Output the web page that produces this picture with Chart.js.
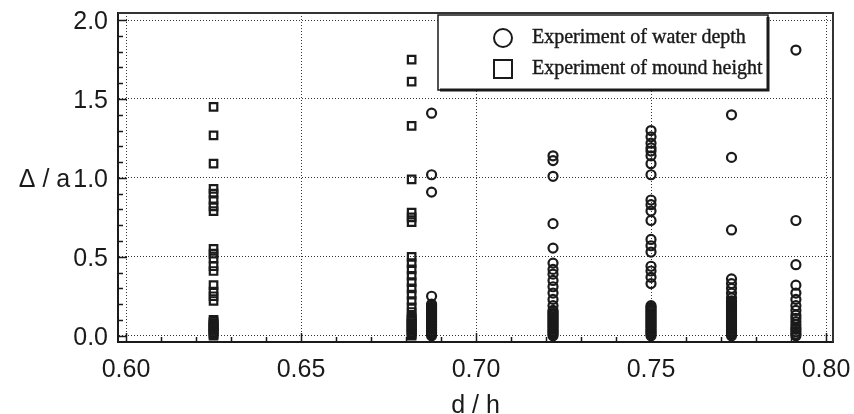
<!DOCTYPE html>
<html>
<head>
<meta charset="utf-8">
<script src="https://cdn.jsdelivr.net/npm/chart.js@4/dist/chart.umd.min.js"></script>
<style>
  html, body { margin: 0; padding: 0; background: #fff; }
  #wrap { width: 854px; height: 414px; }
</style>
</head>
<body>
<div id="wrap"><canvas id="dhChart" width="854" height="414"></canvas></div>
<script>
// d/h position of each measured column
const moundX = [0.625, 0.6816];
const depthX = [0.6873, 0.722, 0.75, 0.773, 0.7914];

// Δ/a values
const mound0625 = [1.45, 1.27, 1.09, 0.93, 0.90, 0.86, 0.82, 0.79, 0.55, 0.52, 0.49, 0.44, 0.41,
  0.32, 0.28, 0.25, 0.22, 0.10, 0.09, 0.08, 0.07, 0.06, 0.05, 0.04, 0.03, 0.02, 0.01, 0.0];
const mound0682 = [1.75, 1.61, 1.33, 0.99, 0.78, 0.75, 0.72, 0.50, 0.46, 0.42, 0.38, 0.34, 0.30,
  0.26, 0.22, 0.18, 0.15, 0.12, 0.11, 0.10, 0.09, 0.08, 0.07, 0.06, 0.05, 0.04, 0.03, 0.02, 0.01,
  0.0];
const depth0687 = [1.41, 1.02, 0.91, 0.25, 0.20, 0.19, 0.18, 0.17, 0.16, 0.15, 0.14, 0.13, 0.12,
  0.11, 0.10, 0.09, 0.08, 0.07, 0.06, 0.05, 0.04, 0.03, 0.02, 0.01, 0.0];
const depth0722 = [1.14, 1.11, 1.01, 0.71, 0.555, 0.46, 0.42, 0.39, 0.35, 0.31, 0.27, 0.23, 0.19,
  0.16, 0.15, 0.14, 0.13, 0.12, 0.11, 0.10, 0.09, 0.08, 0.07, 0.06, 0.05, 0.04, 0.03, 0.02, 0.01,
  0.0];
const depth0750 = [1.30, 1.26, 1.22, 1.19, 1.17, 1.14, 1.09, 1.02, 0.86, 0.83, 0.79, 0.73, 0.61,
  0.57, 0.53, 0.44, 0.41, 0.37, 0.33, 0.19, 0.18, 0.17, 0.16, 0.15, 0.14, 0.13, 0.12, 0.11, 0.10,
  0.09, 0.08, 0.07, 0.06, 0.05, 0.04, 0.03, 0.02, 0.01, 0.0];
const depth0773 = [1.40, 1.13, 0.67, 0.36, 0.33, 0.30, 0.27, 0.24, 0.22, 0.21, 0.20, 0.19, 0.18,
  0.17, 0.16, 0.15, 0.14, 0.13, 0.12, 0.11, 0.10, 0.09, 0.08, 0.07, 0.06, 0.05, 0.04, 0.03, 0.02,
  0.01, 0.0];
const depth0791 = [1.81, 0.73, 0.45, 0.32, 0.27, 0.23, 0.19, 0.16, 0.13, 0.11, 0.09, 0.07, 0.05,
  0.04, 0.025, 0.01, 0.0];

const xTicks = [0.60, 0.65, 0.70, 0.75, 0.80];
const yTicks = [0.0, 0.5, 1.0, 1.5, 2.0];
const seriesNames = ['Experiment of water depth', 'Experiment of mound height'];
const xTitle = 'd / h';
const yTitle = 'Δ / a';

const toPoints = (xs, cols) => xs.flatMap((x, i) => cols[i].map(y => ({ x: x, y: y })));

const sans = '"Liberation Sans", Arial, sans-serif';
const serif = '"Liberation Serif", "Times New Roman", serif';
const ink = '#1a1a1a';

// inward ticks, the top/right edges of the frame and the horizontal y title
const framePlugin = {
    id: 'frame',
    beforeDatasetsDraw(chart) {
        const { ctx, chartArea: a, scales } = chart;
        const x = scales.x, y = scales.y;
        ctx.save();
        ctx.strokeStyle = ink;
        ctx.lineWidth = 1.5;
        ctx.beginPath();
        for (let i = 0; i <= 20; i++) {
            const px = Math.round(x.getPixelForValue(0.60 + i * 0.01)) + 0.5;
            const len = i % 5 === 0 ? 9 : 5;
            ctx.moveTo(px, a.bottom);
            ctx.lineTo(px, a.bottom - len);
        }
        for (let i = 0; i <= 20; i++) {
            const py = Math.round(y.getPixelForValue(i * 0.1)) + 0.5;
            const len = i % 5 === 0 ? 9 : 5;
            ctx.moveTo(a.left, py);
            ctx.lineTo(a.left + len, py);
        }
        ctx.stroke();

        ctx.strokeStyle = '#333';
        ctx.lineWidth = 2;
        ctx.beginPath();
        ctx.moveTo(a.left, a.top);
        ctx.lineTo(a.right, a.top);
        ctx.lineTo(a.right, a.bottom);
        ctx.stroke();

        ctx.font = '25px ' + sans;
        ctx.fillStyle = ink;
        ctx.textAlign = 'right';
        ctx.textBaseline = 'middle';
        const labelW = ctx.measureText('1.0').width;
        ctx.fillText(yTitle, a.left - 10 - labelW - 3, y.getPixelForValue(1.0) + 2);
        ctx.restore();
    }
};

// boxed legend in the upper right of the plot
const legendPlugin = {
    id: 'boxLegend',
    afterDatasetsDraw(chart) {
        const { ctx, chartArea: a } = chart;
        const bx = a.right - 395, by = a.top + 2, bw = 330, bh = 75;
        ctx.save();
        ctx.fillStyle = '#fff';
        ctx.fillRect(bx, by, bw, bh);
        ctx.strokeStyle = ink;
        ctx.lineWidth = 1.5;
        ctx.strokeRect(bx, by, bw, bh);
        ctx.lineWidth = 3;
        ctx.beginPath();
        ctx.moveTo(bx + bw, by + 2);
        ctx.lineTo(bx + bw, by + bh);
        ctx.lineTo(bx + 2, by + bh);
        ctx.stroke();

        ctx.lineWidth = 2;
        ctx.beginPath();
        ctx.arc(bx + 65, by + 23, 9, 0, Math.PI * 2);
        ctx.stroke();
        ctx.strokeRect(bx + 56, by + 45, 18, 18);

        ctx.font = '20px ' + serif;
        ctx.fillStyle = ink;
        ctx.lineWidth = 0.4;
        ctx.textAlign = 'left';
        ctx.textBaseline = 'middle';
        chart.data.datasets.forEach((ds, i) => {
            ctx.fillText(ds.label, bx + 94, by + 23 + i * 31);
            ctx.strokeText(ds.label, bx + 94, by + 23 + i * 31);
        });
        ctx.restore();
    }
};

new Chart(document.getElementById('dhChart').getContext('2d'), {
    type: 'scatter',
    data: {
        datasets: [{
            label: seriesNames[0],
            data: toPoints(depthX, [depth0687, depth0722, depth0750, depth0773, depth0791]),
            pointStyle: 'circle',
            pointRadius: 4.5,
            borderWidth: 2.2,
            borderColor: ink,
            backgroundColor: 'rgba(255,255,255,0)'
        }, {
            label: seriesNames[1],
            data: toPoints(moundX, [mound0625, mound0682]),
            pointStyle: 'rect',
            pointRadius: 5.3,
            borderWidth: 2.2,
            borderColor: ink,
            backgroundColor: 'rgba(255,255,255,0)'
        }]
    },
    options: {
        responsive: false,
        animation: false,
        layout: { padding: { top: 13, right: 21, left: 0, bottom: 0 } },
        plugins: {
            legend: { display: false },
            tooltip: { enabled: false }
        },
        scales: {
            x: {
                type: 'linear',
                min: 0.5977,
                max: 0.802,
                afterBuildTicks: s => { s.ticks = xTicks.map(v => ({ value: v })); },
                afterFit: s => { s.height = 72; s.paddingLeft = 0; s.paddingRight = 0; },
                grid: { color: '#333', lineWidth: 1, drawTicks: false },
                border: { color: ink, width: 2, dash: [1, 2] },
                ticks: {
                    padding: 13,
                    color: ink,
                    font: { family: sans, size: 25 },
                    callback: v => v.toFixed(2)
                },
                title: {
                    display: true,
                    text: xTitle,
                    color: ink,
                    font: { family: sans, size: 25, lineHeight: 0.6 },
                    padding: { top: 0, bottom: 0 }
                }
            },
            y: {
                min: -0.04,
                max: 2.045,
                afterBuildTicks: s => { s.ticks = yTicks.map(v => ({ value: v })); },
                afterFit: s => { s.width = 118; s.paddingTop = 0; s.paddingBottom = 0; },
                grid: { color: '#333', lineWidth: 1, drawTicks: false },
                border: { color: ink, width: 2, dash: [1, 2] },
                ticks: {
                    padding: 10,
                    labelOffset: 2,
                    color: ink,
                    font: { family: sans, size: 25 },
                    callback: v => v.toFixed(1)
                }
            }
        }
    },
    plugins: [framePlugin, legendPlugin]
});
</script>
</body>
</html>
